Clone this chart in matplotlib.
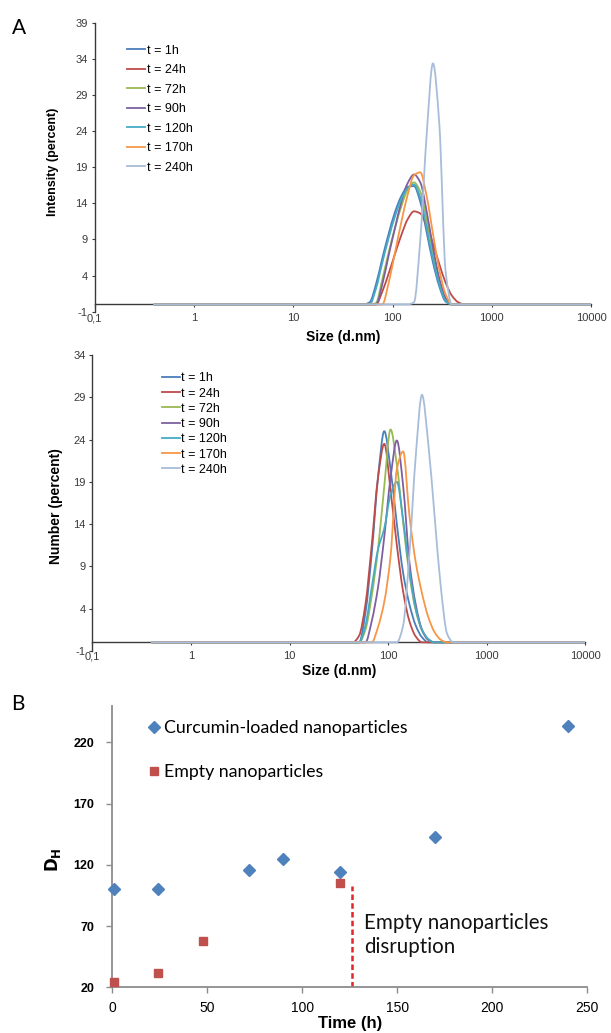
import numpy as np
import matplotlib
matplotlib.use("Agg")
import matplotlib.pyplot as plt
from matplotlib.path import Path
from matplotlib.patches import PathPatch
from matplotlib.lines import Line2D
from matplotlib.ticker import NullLocator

plt.rcParams['font.family'] = ['Liberation Sans', 'DejaVu Sans']
plt.rcParams['axes.unicode_minus'] = False

# size bins (d.nm) of the DLS distributions
size_bins = [0.4, 43.82, 50.75, 58.77, 68.06, 78.82, 91.28, 105.7, 122.4, 141.8, 164.2,
             190.1, 220.2, 255.0, 295.3, 342.0, 396.1, 458.7, 531.2, 615.1, 712.4, 10000]

series_labels = ['t = 1h', 't = 24h', 't = 72h', 't = 90h', 't = 120h', 't = 170h', 't = 240h']
series_colors = ['#4A7EBB', '#BE4B48', '#98B954', '#7D60A0', '#46AAC5', '#F79646', '#A7BDDA']

# intensity distribution (percent)
int_1h = [0, 0, 0, 0.3, 2.8, 6.4, 9.8, 12.8, 15.0, 16.3, 16.4, 14.2, 10.0, 5.8, 2.5, 0.4, 0, 0, 0, 0, 0, 0]
int_24h = [0, 0, 0, 0, 0, 1.8, 4.3, 7.0, 9.6, 11.8, 12.9, 12.6, 10.9, 8.4, 5.6, 3.0, 1.2, 0.3, 0, 0, 0, 0]
int_72h = [0, 0, 0, 0, 0.2, 3.5, 7.2, 10.6, 13.6, 15.9, 16.9, 15.6, 11.8, 7.2, 3.2, 0.8, 0, 0, 0, 0, 0, 0]
int_90h = [0, 0, 0, 0, 0, 2.8, 6.8, 10.6, 14.2, 16.8, 18.0, 16.9, 12.9, 7.9, 3.6, 0.9, 0, 0, 0, 0, 0, 0]
int_120h = [0, 0, 0, 0, 2.2, 5.8, 9.2, 12.2, 14.6, 16.1, 16.6, 14.8, 10.6, 6.3, 2.8, 0.5, 0, 0, 0, 0, 0, 0]
int_170h = [0, 0, 0, 0, 0, 0, 3.0, 7.2, 11.4, 15.2, 17.9, 18.3, 15.0, 9.8, 4.8, 1.4, 0, 0, 0, 0, 0, 0]
int_240h = [0, 0, 0, 0, 0, 0, 0, 0, 0, 0, 0.3, 9.0, 23.5, 33.4, 25.0, 4.5, 0, 0, 0, 0, 0, 0]

# number distribution (percent)
num_1h = [0, 0, 0, 3.5, 10.5, 19.5, 25.0, 20.5, 14.0, 8.2, 4.5, 2.0, 0.6, 0, 0, 0, 0, 0, 0, 0, 0, 0]
num_24h = [0, 0, 0.8, 4.5, 11.5, 19.5, 23.5, 18.0, 11.5, 6.0, 2.5, 0.7, 0, 0, 0, 0, 0, 0, 0, 0, 0, 0]
num_72h = [0, 0, 0, 1.5, 5.5, 11.0, 18.5, 25.2, 21.0, 14.2, 8.0, 3.8, 1.4, 0.3, 0, 0, 0, 0, 0, 0, 0, 0]
num_90h = [0, 0, 0, 0, 2.5, 6.5, 12.5, 19.5, 23.9, 18.5, 9.5, 4.5, 1.5, 0.3, 0, 0, 0, 0, 0, 0, 0, 0]
num_120h = [0, 0, 0, 2.0, 6.5, 11.0, 13.5, 17.5, 19.0, 14.5, 8.5, 4.0, 1.5, 0.4, 0, 0, 0, 0, 0, 0, 0, 0]
num_170h = [0, 0, 0, 0, 0, 1.8, 4.8, 10.2, 20.5, 22.6, 15.0, 9.5, 5.8, 3.0, 1.2, 0.3, 0, 0, 0, 0, 0, 0]
num_240h = [0, 0, 0, 0, 0, 0, 0, 0, 0, 2.0, 10.5, 22.0, 29.3, 23.5, 15.0, 6.5, 1.0, 0, 0, 0, 0, 0]

size_ticks = [0.1, 1, 10, 100, 1000, 10000]
size_tick_labels = ['0,1', '1', '10', '100', '1000', '10000']

# panel B: hydrodynamic diameter vs time
curc_time = [1, 24, 72, 90, 120, 170, 240]
curc_dh = [100, 100, 116, 125, 114, 143, 233]
empty_time = [1, 24, 48, 120]
empty_dh = [24, 32, 58, 105]
disruption_time = 126
disruption_top = 103


def smooth_curve(ax, sizes, values, color, lw=1.3):
    # monotone cubic through the points, drawn as bezier segments in log-x space
    lx = np.log10(sizes)
    y = np.asarray(values, dtype=float)
    h = np.diff(lx)
    d = np.diff(y) / h
    m = np.zeros_like(y)
    for i in range(1, len(y) - 1):
        if d[i - 1] * d[i] > 0:
            w1 = 2 * h[i] + h[i - 1]
            w2 = h[i] + 2 * h[i - 1]
            m[i] = (w1 + w2) / (w1 / d[i - 1] + w2 / d[i])
    verts = [(lx[0], y[0])]
    codes = [Path.MOVETO]
    for i in range(len(y) - 1):
        verts += [(lx[i] + h[i] / 3, y[i] + m[i] * h[i] / 3),
                  (lx[i + 1] - h[i] / 3, y[i + 1] - m[i + 1] * h[i] / 3),
                  (lx[i + 1], y[i + 1])]
        codes += [Path.CURVE4] * 3
    verts = np.array(verts)
    verts[:, 0] = 10 ** verts[:, 0]
    patch = PathPatch(Path(verts, codes), fill=False, edgecolor=color, lw=lw,
                      transform=ax.transData, zorder=3, capstyle='round', joinstyle='round')
    ax.add_patch(patch)


def style_dls(ax, ymax, ylabel, xlab_y):
    ax.set_xscale('log')
    ax.set_xlim(0.1, 10000)
    ax.set_ylim(-1, ymax)
    ax.spines[['top', 'right']].set_visible(False)
    ax.spines['bottom'].set_position(('data', 0))
    for s in ['left', 'bottom']:
        ax.spines[s].set_color('#3a3a3a')
        ax.spines[s].set_linewidth(1.0)
    ax.set_xticks(size_ticks)
    ax.set_xticklabels(size_tick_labels)
    ax.xaxis.set_minor_locator(NullLocator())
    ax.set_yticks(np.arange(-1, ymax + 1, 5))
    ax.tick_params(axis='both', labelsize=8, colors='#3a3a3a', length=2.5, width=0.8)
    ax.tick_params(axis='x', pad=4)
    ax.tick_params(axis='y', pad=2.5)
    ax.set_xlabel('Size (d.nm)', fontsize=10, fontweight='bold')
    ax.xaxis.set_label_coords(0.5, xlab_y)
    ax.set_ylabel(ylabel, fontweight='bold')
    return ax


fig = plt.figure(figsize=(6.11, 10.33), dpi=100)

ax1 = fig.add_axes([0.155, 0.6983, 0.8126, 0.2795])
style_dls(ax1, 39, 'Intensity (percent)', -0.0635)
ax1.yaxis.label.set_fontsize(9)
ax1.yaxis.set_label_coords(-0.072, 0.52)
for vals, c in zip([int_1h, int_24h, int_72h, int_90h, int_120h, int_170h, int_240h], series_colors):
    smooth_curve(ax1, size_bins, vals, c)
handles = [Line2D([], [], color=c, lw=1.3) for c in series_colors]
ax1.legend(handles, series_labels, loc='upper left', bbox_to_anchor=(0.0645, 0.925),
           frameon=False, borderpad=0, borderaxespad=0, handlelength=1.5,
           handletextpad=0.1, labelspacing=0.6, fontsize=9)

ax2 = fig.add_axes([0.1512, 0.370, 0.8069, 0.2862])
style_dls(ax2, 34, 'Number (percent)', -0.045)
ax2.yaxis.label.set_fontsize(10)
ax2.yaxis.set_label_coords(-0.0596, 0.49)
for vals, c in zip([num_1h, num_24h, num_72h, num_90h, num_120h, num_170h, num_240h], series_colors):
    smooth_curve(ax2, size_bins, vals, c)
handles = [Line2D([], [], color=c, lw=1.3) for c in series_colors]
ax2.legend(handles, series_labels, loc='upper left', bbox_to_anchor=(0.1406, 0.942),
           frameon=False, borderpad=0, borderaxespad=0, handlelength=1.45,
           handletextpad=0.1, labelspacing=0.26, fontsize=9)

# panel B
ax3 = fig.add_axes([0.1836, 0.0442, 0.7776, 0.2728])
ax3.plot(curc_time, curc_dh, 'D', color='#4F81BD', ms=5.8, mec='#4F81BD',
         label='Curcumin-loaded nanoparticles', clip_on=False, zorder=3)
ax3.plot(empty_time, empty_dh, 's', color='#C0504D', ms=5.8, mec='#C0504D',
         label='Empty nanoparticles', clip_on=False, zorder=3)
ax3.plot([disruption_time, disruption_time], [20, disruption_top], color='#E3242B',
         lw=1.8, dashes=(2.2, 1.3))
ax3.text(132.7, 81, 'Empty nanoparticles\ndisruption', fontsize=14.8, family=['Lato', 'DejaVu Sans'],
         va='top', ha='left', linespacing=1.3, color='#111111')
ax3.set_xlim(0, 250)
ax3.set_ylim(20, 250)
ax3.set_xticks([0, 50, 100, 150, 200, 250])
ax3.set_yticks([20, 70, 120, 170, 220])
ax3.spines[['top', 'right']].set_visible(False)
for s in ['left', 'bottom']:
    ax3.spines[s].set_color('#8c8c8c')
    ax3.spines[s].set_linewidth(1.3)
ax3.tick_params(axis='x', labelsize=10, length=4, width=1.0, color='#8c8c8c', pad=6)
ax3.tick_params(axis='y', labelsize=9, length=4, width=1.0, color='#8c8c8c', pad=9)
for lab in ax3.get_yticklabels():
    lab.set_fontweight('bold')
ax3.set_xlabel('Time (h)', fontsize=12, fontweight='bold')
ax3.xaxis.set_label_coords(0.5, -0.103)
ax3.set_ylabel(r'$\mathbf{D_H}$', fontsize=12)
ax3.yaxis.set_label_coords(-0.104, 0.452)
ax3.legend(loc='upper left', bbox_to_anchor=(0.0772, 0.948), frameon=False, borderpad=0,
           borderaxespad=0, handlelength=0.6, handletextpad=0.25, labelspacing=1.55,
           numpoints=1, prop={'family': ['Lato', 'DejaVu Sans'], 'size': 12.8})

fig.text(0.020, 0.973, 'A', fontsize=15, family=['Lato', 'DejaVu Sans'], va='center')
fig.text(0.019, 0.3185, 'B', fontsize=15, family=['Lato', 'DejaVu Sans'], va='center')

fig.savefig('out.png', dpi=100)
